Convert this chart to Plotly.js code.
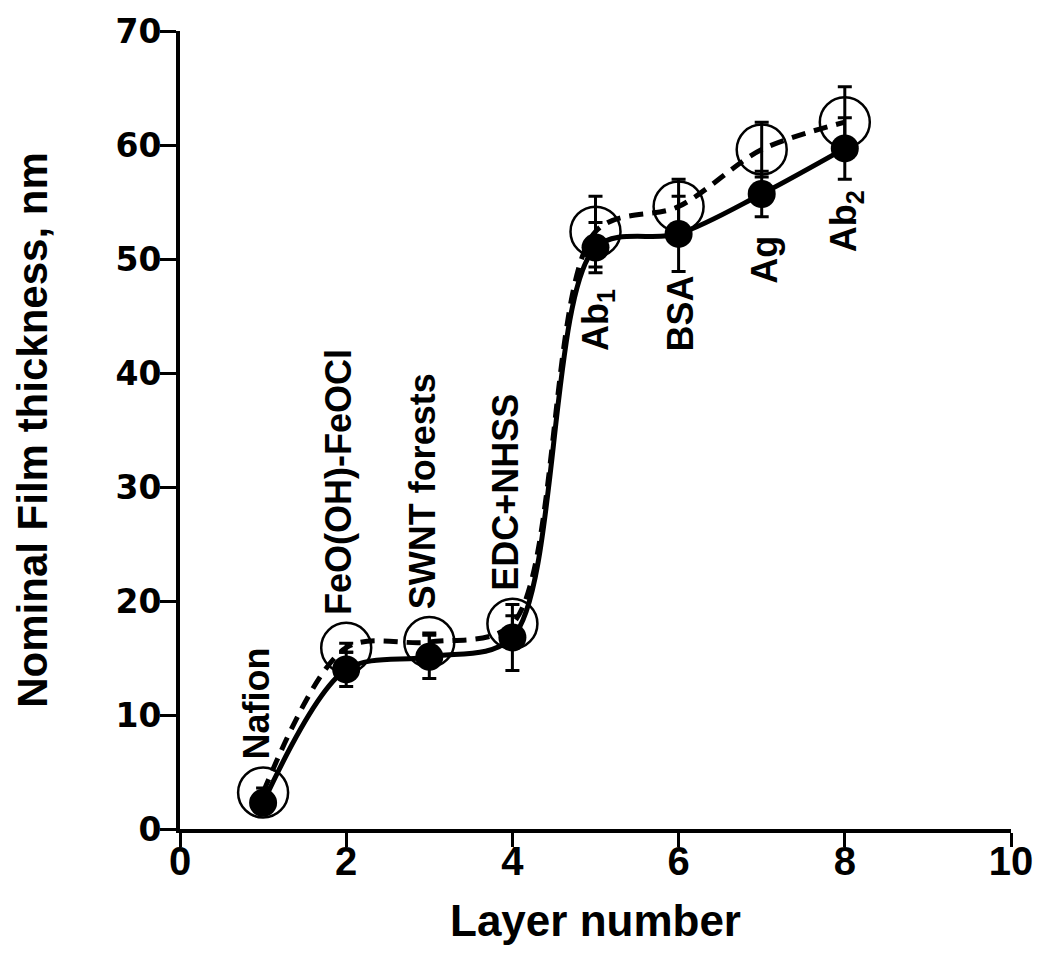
<!DOCTYPE html>
<html>
<head>
<meta charset="utf-8">
<script src="https://cdn.plot.ly/plotly-3.0.1.min.js"></script>
<style>html,body{margin:0;padding:0;background:#fff;}#plot{width:1050px;height:958px;}</style>
</head>
<body>
<div id="plot"></div>
<script>
// ---- data ----
var layers = [1, 2, 3, 4, 5, 6, 7, 8];
var layerLabels = ["Nafion", "FeO(OH)-FeOCl", "SWNT forests", "EDC+NHSS", "Ab<sub>1</sub>", "BSA", "Ag", "Ab<sub>2</sub>"];
var labelBelow = [false, false, false, false, true, true, true, true];
var thicknessSolid = [2.3, 14.0, 15.1, 16.8, 51.0, 52.2, 55.7, 59.7];
var errSolid = [0.4, 1.5, 1.9, 2.9, 2.2, 3.3, 2.0, 2.7];
var thicknessOpen = [3.2, 15.9, 16.4, 18.0, 52.4, 54.6, 59.6, 62.0];
var errOpen = [0.4, 0.4, 0.8, 0.7, 3.1, 2.4, 2.4, 3.1];
var xTicks = [0, 2, 4, 6, 8, 10];
var yTicks = [0, 10, 20, 30, 40, 50, 60, 70];

var traceOpen = {
  x: layers, y: thicknessOpen, type: 'scatter', mode: 'lines+markers',
  line: {color: '#000', width: 5, dash: '14px,9px', shape: 'spline', smoothing: 0.9},
  marker: {symbol: 'circle-open', size: 50, color: '#000', line: {color: '#000', width: 2.5}},
  error_y: {type: 'data', array: errOpen, visible: true, color: '#000', thickness: 3, width: 7},
  showlegend: false, hoverinfo: 'skip'
};
var traceSolid = {
  x: layers, y: thicknessSolid, type: 'scatter', mode: 'lines+markers',
  line: {color: '#000', width: 5, shape: 'spline', smoothing: 0.9},
  marker: {symbol: 'circle', size: 28, color: '#000'},
  error_y: {type: 'data', array: errSolid, visible: true, color: '#000', thickness: 3, width: 7},
  showlegend: false, hoverinfo: 'skip'
};

var annotations = layers.map(function (l, i) {
  var below = labelBelow[i];
  return {
    x: l, y: below ? thicknessSolid[i] : thicknessOpen[i], xref: 'x', yref: 'y',
    text: layerLabels[i], showarrow: false, textangle: -90,
    xanchor: 'center', yanchor: below ? 'top' : 'bottom',
    yshift: below ? -40 : 31, xshift: below ? 2 : -7,
    font: {family: '"Liberation Sans", Arial, sans-serif', size: 36, weight: 'bold', color: '#000'}
  };
});

var layout = {
  width: 1050, height: 958,
  margin: {l: 180, r: 39, t: 31, b: 129},
  paper_bgcolor: '#fff', plot_bgcolor: '#fff',
  showlegend: false,
  xaxis: {
    range: [0, 10], tickmode: 'array', tickvals: xTicks, ticktext: xTicks.map(String),
    showline: true, linecolor: '#000', linewidth: 4, showgrid: false, zeroline: false,
    ticks: 'outside', ticklen: 14, tickwidth: 3, tickcolor: '#000',
    ticklabelstandoff: -20,
    tickfont: {family: '"Liberation Sans", Arial, sans-serif', size: 40, weight: 'bold', color: '#000'},
    title: {text: 'Layer number', standoff: 24, font: {family: '"Liberation Sans", Arial, sans-serif', size: 44, weight: 'bold', color: '#000'}},
    automargin: false
  },
  yaxis: {
    range: [0, 70], tickmode: 'array', tickvals: yTicks, ticktext: yTicks.map(String),
    showline: true, linecolor: '#000', linewidth: 4, showgrid: false, zeroline: false,
    ticks: 'outside', ticklen: 16, tickwidth: 3, tickcolor: '#000',
    ticklabelstandoff: -8,
    tickfont: {family: '"DejaVu Sans", sans-serif', size: 33, weight: 'bold', color: '#000'},
    title: {text: 'Nominal Film thickness, nm', standoff: 56, font: {family: '"Liberation Sans", Arial, sans-serif', size: 42, weight: 'bold', color: '#000'}},
    automargin: false
  },
  annotations: annotations
};

Plotly.newPlot('plot', [traceOpen, traceSolid], layout, {staticPlot: true, displayModeBar: false});
</script>
</body>
</html>
